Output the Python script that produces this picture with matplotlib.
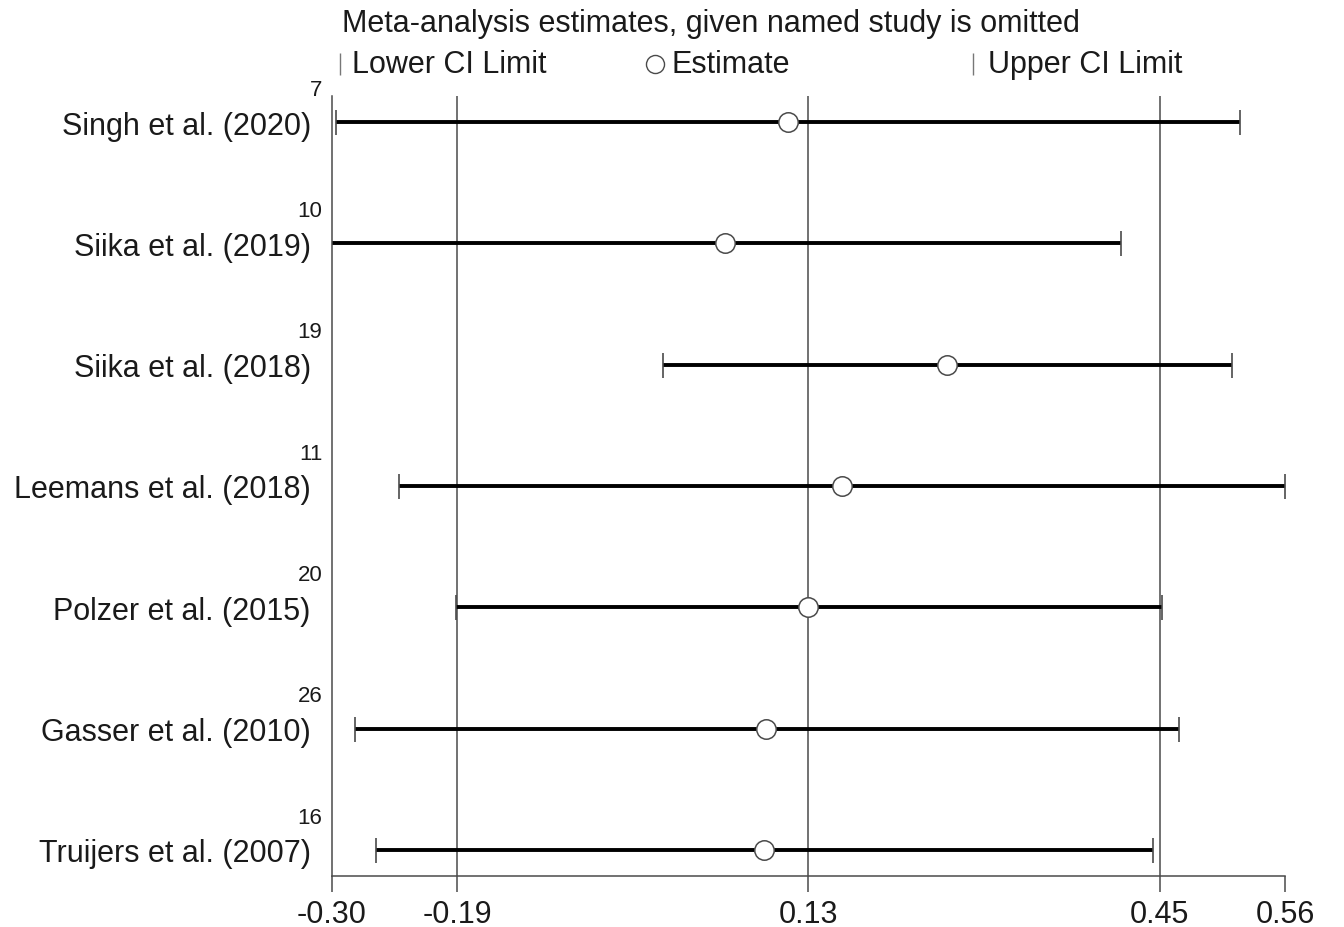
import matplotlib.pyplot as plt
from matplotlib import transforms

plt.rcParams['font.family'] = ['Liberation Sans', 'DejaVu Sans']

# Leave-one-out estimates with 95% CI limits
studies = ["Singh et al. (2020)", "Siika et al. (2019)", "Siika et al. (2018)",
           "Leemans et al. (2018)", "Polzer et al. (2015)", "Gasser et al. (2010)",
           "Truijers et al. (2007)"]
refs = ["7", "10", "19", "11", "20", "26", "16"]
estimate = [0.112, 0.055, 0.255, 0.160, 0.130, 0.092, 0.090]
lower = [-0.296, -0.310, -0.001, -0.239, -0.188, -0.279, -0.260]
upper = [0.519, 0.412, 0.512, 0.560, 0.449, 0.464, 0.441]

# axis ticks (labels are rounded to two decimals)
tick_values = [-0.30, -0.187, 0.13, 0.447, 0.56]
x_min, x_max = -0.30, 0.56

ink = "#1a1a1a"
grey = "#4a4a4a"
fs = 22

fig = plt.figure(figsize=(13.44, 9.28), dpi=100)
ax = fig.add_axes([0.2468, 0.055, 0.7093, 0.8405])

rows = list(range(len(studies)))
for i in rows:
    ax.plot([lower[i], upper[i]], [i, i], color="black", lw=2.8,
            solid_capstyle="butt", zorder=2)
    ax.plot([lower[i], upper[i]], [i, i], ls="none", marker="|",
            ms=18, mew=1.2, color=grey, zorder=3)
    ax.plot(estimate[i], i, ls="none", marker="o", ms=14, mfc="white",
            mec=grey, mew=1.1, zorder=4)

# reference lines at the inner ticks
for t in tick_values[1:-1]:
    ax.axvline(t, color=grey, lw=1.1, zorder=1)

ax.set_xlim(x_min, x_max)
ax.set_ylim(len(studies) - 1 + 0.215, -0.215)

ax.set_xticks(tick_values)
ax.set_xticklabels([f"{t:.2f}" for t in tick_values], fontsize=fs, color=ink)
ax.tick_params(axis="x", length=11.5, width=1.1, color=grey, pad=5)

ax.set_yticks(rows)
ax.set_yticklabels(studies, fontsize=fs, color=ink)
ax.tick_params(axis="y", length=0, pad=15)

for side in ["top", "right"]:
    ax.spines[side].set_visible(False)
for side in ["left", "bottom"]:
    ax.spines[side].set_color(grey)
    ax.spines[side].set_linewidth(1.1)

# reference numbers above each study name
blend = transforms.blended_transform_factory(ax.transAxes, ax.transData)
for i in rows:
    ax.text(-0.010, i - 0.27, refs[i], transform=blend, ha="right",
            va="center", fontsize=16, color=ink)

# header and legend line
fig.text(0.2545, 0.974, "Meta-analysis estimates, given named study is omitted",
         ha="left", va="center", fontsize=fs, color=ink)

leg_y = 0.930
fig.add_artist(plt.Line2D([0.2530], [leg_y], marker="|", ms=16, mew=1.0,
                          color="#777777", transform=fig.transFigure))
fig.text(0.2619, leg_y, "Lower CI Limit", ha="left", va="center",
         fontsize=fs, color=ink)
fig.add_artist(plt.Line2D([0.4874], [leg_y], marker="o", ms=13, mfc="white",
                          mec=grey, mew=1.0, transform=fig.transFigure))
fig.text(0.4995, leg_y, "Estimate", ha="left", va="center",
         fontsize=fs, color=ink)
fig.add_artist(plt.Line2D([0.7240], [leg_y], marker="|", ms=16, mew=1.0,
                          color="#777777", transform=fig.transFigure))
fig.text(0.7350, leg_y, "Upper CI Limit", ha="left", va="center",
         fontsize=fs, color=ink)

fig.savefig("out.png", dpi=100)
